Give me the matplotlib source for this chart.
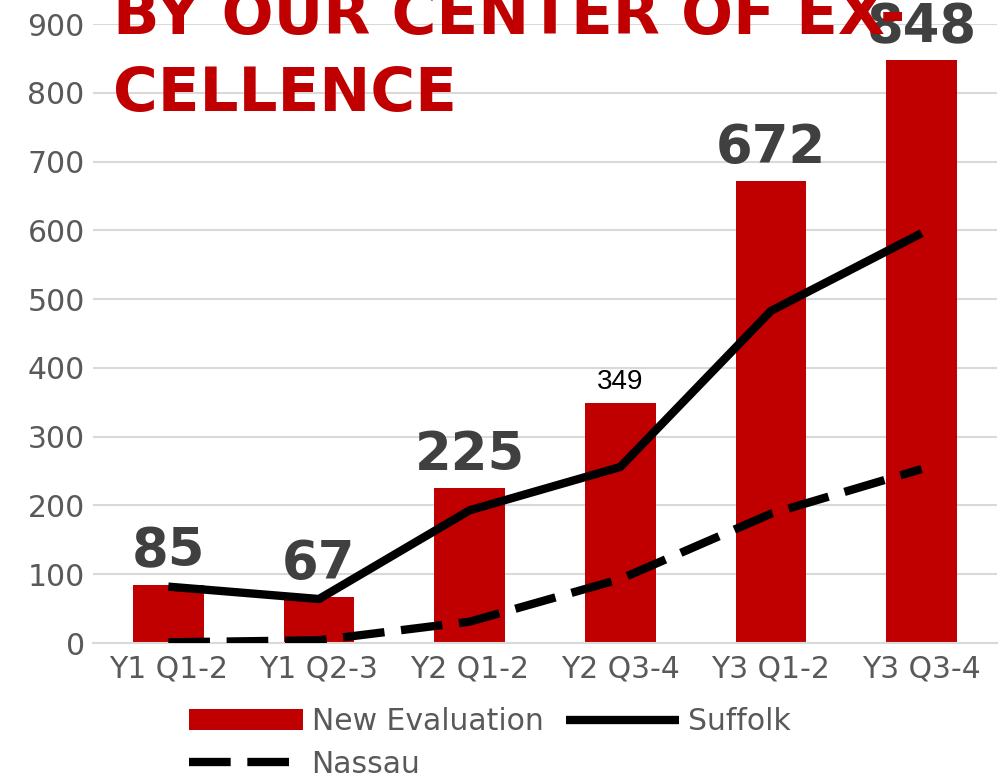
import numpy as np
import matplotlib
matplotlib.use("Agg")
import matplotlib.pyplot as plt

# data
periods = ["Y1 Q1-2", "Y1 Q2-3", "Y2 Q1-2", "Y2 Q3-4", "Y3 Q1-2", "Y3 Q3-4"]
new_eval = [85, 67, 225, 349, 672, 848]
suffolk = [82, 64, 193, 256, 483, 596]
nassau = [1, 4, 31, 93, 188, 253]
big_labels = [True, True, True, False, True, True]

red = "#C00000"
gray = "#595959"
dark = "#404040"

fig = plt.figure(figsize=(10.05, 7.78), dpi=100)
ax = fig.add_axes([0.0925, 0.1735, 0.8995, 0.7955])

x = np.arange(len(periods))
bars = ax.bar(x, new_eval, width=0.47, color=red, label="New Evaluation", zorder=2)
l_suf, = ax.plot(x, suffolk, color="black", lw=6, solid_capstyle="butt",
                 label="Suffolk", zorder=3)
l_nas, = ax.plot(x, nassau, color="black", lw=6, dashes=(5, 2),
                 dash_capstyle="butt", label="Nassau", zorder=3)

for xi, v, big in zip(x, new_eval, big_labels):
    if big:
        ax.annotate(str(v), (xi, v), xytext=(0, 13), textcoords="offset points",
                    ha="center", va="baseline", fontsize=38, fontweight="bold",
                    color=dark, zorder=4)
    else:
        ax.annotate(str(v), (xi, v), xytext=(0, 10), textcoords="offset points",
                    ha="center", va="baseline", fontsize=20,
                    family="Liberation Sans", color="black", zorder=4)

ax.set_xlim(-0.5, len(periods) - 0.5)
ax.set_ylim(0, 900)
ax.set_yticks(np.arange(0, 901, 100))
ax.set_xticks(x)
ax.set_xticklabels(periods)
ax.tick_params(axis="both", length=0, labelsize=21.5, labelcolor=gray)
ax.tick_params(axis="y", pad=6)
ax.tick_params(axis="x", pad=8)
ax.grid(axis="y", color="#d9d9d9", lw=1.5, zorder=0)
ax.set_axisbelow(True)
for s in ["top", "right", "left"]:
    ax.spines[s].set_visible(False)
ax.spines["bottom"].set_color("#d9d9d9")
ax.spines["bottom"].set_linewidth(1.5)

fig.legend([bars, l_nas, l_suf], ["New Evaluation", "Nassau", "Suffolk"],
           ncol=2, loc="center", bbox_to_anchor=(490 / 1005, 1 - 743 / 778),
           frameon=False, fontsize=21.5, labelcolor=gray, handlelength=3.8,
           handletextpad=0.3, columnspacing=0.75, labelspacing=0.45,
           borderpad=0)

# title, clipped at the top of the figure like the reference
fig.text(113 / 1005, 1 - 34 / 778, "BY OUR CENTER OF EX-", color=red,
         fontsize=44, fontweight="bold", va="baseline", ha="left", zorder=5)
fig.text(113 / 1005, 1 - 111 / 778, "CELLENCE", color=red,
         fontsize=44, fontweight="bold", va="baseline", ha="left", zorder=5)

fig.savefig("out.png", dpi=100)
